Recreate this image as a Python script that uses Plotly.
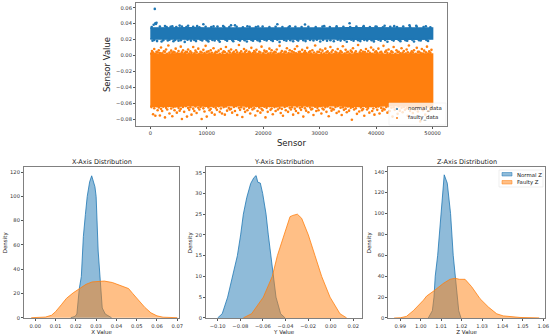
import plotly.graph_objects as go

W, H = 550, 336
BLUE, ORANGE = "#1f77b4", "#ff7f0e"
BLUE_F, ORANGE_F = "rgba(31,119,180,0.5)", "rgba(255,127,14,0.5)"
FONT = "DejaVu Sans"

# ---------- top scatter ----------
band_x = [0, 2500, 5000, 7500, 10000, 12500, 15000, 17500, 20000, 22500, 25000, 27500, 30000, 32500, 35000, 37500, 40000, 42500, 45000, 47500, 50000]
normal_upper = [0.0345, 0.0348, 0.0345, 0.0349, 0.0346, 0.0345, 0.0348, 0.0346, 0.0345, 0.0347, 0.0345, 0.0348, 0.0346, 0.0345, 0.0348, 0.0346, 0.0345, 0.0347, 0.0348, 0.0345, 0.0346]
normal_lower = [0.0205, 0.0203, 0.0205, 0.0204, 0.0205, 0.0203, 0.0205, 0.0204, 0.0203, 0.0205, 0.0204, 0.0205, 0.0203, 0.0205, 0.0204, 0.0203, 0.0205, 0.0204, 0.0205, 0.0203, 0.0205]
faulty_upper = [0.0020, 0.0015, 0.0022, 0.0014, 0.0018, 0.0012, 0.0018, 0.0022, 0.0014, 0.0018, 0.0014, 0.0022, 0.0012, 0.0018, 0.0014, 0.0022, 0.0018, 0.0012, 0.0018, 0.0014, 0.0018]
faulty_lower = [-0.0640, -0.0635, -0.0640, -0.0630, -0.0640, -0.0635, -0.0630, -0.0640, -0.0635, -0.0640, -0.0630, -0.0635, -0.0640, -0.0630, -0.0640, -0.0635, -0.0640, -0.0630, -0.0635, -0.0640, -0.0635]

normal_px = [800, 600, 900, 1100, 1000, 2600, 3900, 5200, 6700, 8300, 9400, 11200, 12900, 14300, 15000, 17200, 19100, 22500, 24700, 27400, 30800, 33000, 35300, 37800, 39900, 41500, 43200, 45900, 47100, 48800,
             400, 1200, 2000, 3100, 4100, 5000, 6100, 7200, 8100, 9200, 10300, 11400, 12300, 13600, 14700, 15900, 17100, 18200, 19400, 20600, 21700, 22900, 24100, 25300, 26200, 27500, 28900, 30100, 31300, 32500, 33700, 34800, 36000, 37200, 38400, 39600, 40800, 42000, 43100, 44300, 45500, 46700, 47900, 49200,
             250, 1700, 2900, 3600, 4600, 5600, 6400, 7600, 8700, 9800, 10800, 11900, 13100, 14000, 15300, 16400, 17600, 18700, 19900, 21100, 22200, 23400, 24500, 25700, 26800, 28000, 29300, 30500, 31800, 33000, 34200, 35400, 36500, 37700, 38900, 40100, 41200, 42500, 43700, 44800, 46000, 47200, 48400, 49600,
             700, 2300, 3400, 4400, 5400, 6600, 7800, 8900, 10000, 11000, 12100, 13300, 14500, 15600, 16700, 17900, 19000, 20200, 21400, 22500, 23700, 24800, 26000, 27100, 28300, 29500, 30600, 31900, 33200, 34400, 35600, 36800, 37900, 39200, 40400, 41600, 42800, 44000, 45200, 46400, 47600, 48900]
normal_py = [0.0585, 0.0385, 0.0405, 0.0410, 0.0395, 0.0370, 0.0365, 0.0375, 0.0372, 0.0368, 0.0392, 0.0365, 0.0370, 0.0378, 0.0378, 0.0366, 0.0364, 0.0392, 0.0366, 0.0388, 0.0368, 0.0365, 0.0405, 0.0368, 0.0364, 0.0372, 0.0368, 0.0378, 0.0372, 0.0366,
             0.0185, 0.0180, 0.0175, 0.0188, 0.0178, 0.0185, 0.0170, 0.0186, 0.0180, 0.0188, 0.0176, 0.0187, 0.0172, 0.0184, 0.0178, 0.0186, 0.0174, 0.0185, 0.0179, 0.0187, 0.0182, 0.0170, 0.0185, 0.0177, 0.0186, 0.0180, 0.0188, 0.0174, 0.0184, 0.0178, 0.0186, 0.0172, 0.0185, 0.0180, 0.0187, 0.0176, 0.0184, 0.0171, 0.0186, 0.0179, 0.0185, 0.0174, 0.0187, 0.0181,
             0.0358, 0.0362, 0.0355, 0.0360, 0.0357, 0.0363, 0.0356, 0.0359, 0.0354, 0.0361, 0.0356, 0.0362, 0.0355, 0.0358, 0.0361, 0.0354, 0.0359, 0.0356, 0.0362, 0.0355, 0.0360, 0.0357, 0.0354, 0.0361, 0.0356, 0.0359, 0.0355, 0.0362, 0.0357, 0.0354, 0.0360, 0.0356, 0.0362, 0.0355, 0.0358, 0.0361, 0.0354, 0.0359, 0.0356, 0.0362, 0.0355, 0.0360, 0.0357, 0.0354,
             0.0195, 0.0192, 0.0197, 0.0194, 0.0191, 0.0196, 0.0193, 0.0197, 0.0192, 0.0195, 0.0191, 0.0196, 0.0194, 0.0197, 0.0192, 0.0195, 0.0191, 0.0196, 0.0193, 0.0197, 0.0194, 0.0191, 0.0196, 0.0192, 0.0195, 0.0197, 0.0193, 0.0191, 0.0196, 0.0194, 0.0197, 0.0192, 0.0195, 0.0191, 0.0196, 0.0193, 0.0197, 0.0194, 0.0192, 0.0196, 0.0191, 0.0195]

faulty_top_x = [300, 700, 1100, 1500, 1900, 2400, 2800, 3200, 3700, 4100, 4500, 5000, 5400, 5800, 6300, 6700, 7100, 7600, 8000, 8500, 8900, 9400, 9800, 10300, 10700, 11200, 11600, 12100, 12500, 13000, 13400, 13900, 14300, 14800, 15200, 15700, 16100, 16600, 17000, 17500, 17900, 18400, 18800, 19300, 19700, 20200, 20600, 21100, 21500, 22000, 22400, 22900, 23300, 23800, 24200, 24700, 25100, 25600, 26000, 26500, 26900, 27400, 27800, 28300, 28700, 29200, 29600, 30100, 30500, 31000, 31400, 31900, 32300, 32800, 33200, 33700, 34100, 34600, 35000, 35500, 35900, 36400, 36800, 37300, 37700, 38200, 38600, 39100, 39500, 40000, 40400, 40900, 41300, 41800, 42200, 42700, 43100, 43600, 44000, 44500, 44900, 45400, 45800, 46300, 46700, 47200, 47600, 48100, 48500, 49000, 49400, 49800,
                200, 500, 900, 1300, 1700, 2100, 2600, 3000, 3400, 3900, 4300, 4800, 5200, 5600, 6100, 6500, 6900, 7300, 7800, 8200, 8700, 9100, 9600, 10000, 10500, 10900, 11400, 11800, 12300, 12800, 13200, 13600, 14100, 14600, 15000, 15400, 15900, 16400, 16800, 17300, 17700, 18200, 18600, 19100, 19500, 20000, 20400, 20900, 21300, 21800, 22200, 22700, 23100, 23600, 24000, 24500, 24900, 25400, 25800, 26300, 26700, 27200, 27600, 28100, 28500, 29000, 29400, 29900, 30300, 30800, 31200, 31700, 32100, 32600, 33000, 33500, 33900, 34400, 34800, 35300, 35700, 36200, 36600, 37100, 37500, 38000, 38400, 38900, 39300, 39800, 40200, 40700, 41100, 41600, 42000, 42500, 42900, 43400, 43800, 44300, 44700, 45200, 45600, 46100, 46500, 47000, 47400, 47900, 48300, 48800, 49200, 49600]
faulty_top_y = [0.0055, 0.0080, 0.0045, 0.0065, 0.0100, 0.0050, 0.0075, 0.0125, 0.0060, 0.0045, 0.0085, 0.0055, 0.0110, 0.0065, 0.0045, 0.0075, 0.0050, 0.0105, 0.0060, 0.0085, 0.0045, 0.0070, 0.0120, 0.0050, 0.0065, 0.0090, 0.0045, 0.0060, 0.0080, 0.0050, 0.0105, 0.0055, 0.0075, 0.0045, 0.0065, 0.0130, 0.0050, 0.0080, 0.0060, 0.0045, 0.0095, 0.0055, 0.0070, 0.0045, 0.0110, 0.0060, 0.0050, 0.0085, 0.0065, 0.0045, 0.0075, 0.0120, 0.0055, 0.0045, 0.0090, 0.0065, 0.0050, 0.0080, 0.0115, 0.0045, 0.0070, 0.0055, 0.0095, 0.0050, 0.0065, 0.0125, 0.0045, 0.0075, 0.0060, 0.0085, 0.0050, 0.0105, 0.0065, 0.0045, 0.0080, 0.0055, 0.0115, 0.0070, 0.0045, 0.0060, 0.0090, 0.0050, 0.0130, 0.0065, 0.0045, 0.0080, 0.0055, 0.0100, 0.0070, 0.0050, 0.0085, 0.0045, 0.0120, 0.0060, 0.0075, 0.0050, 0.0105, 0.0065, 0.0045, 0.0090, 0.0055, 0.0075, 0.0125, 0.0050, 0.0065, 0.0095, 0.0045, 0.0080, 0.0060, 0.0110, 0.0050, 0.0070,
                0.0025, 0.0035, 0.0020, 0.0040, 0.0030, 0.0025, 0.0045, 0.0020, 0.0035, 0.0030, 0.0040, 0.0025, 0.0020, 0.0038, 0.0028, 0.0042, 0.0022, 0.0032, 0.0026, 0.0040, 0.0020, 0.0036, 0.0028, 0.0044, 0.0022, 0.0034, 0.0026, 0.0040, 0.0020, 0.0032, 0.0042, 0.0024, 0.0036, 0.0028, 0.0020, 0.0040, 0.0030, 0.0024, 0.0044, 0.0022, 0.0034, 0.0028, 0.0040, 0.0020, 0.0036, 0.0026, 0.0042, 0.0022, 0.0032, 0.0028, 0.0040, 0.0020, 0.0034, 0.0024, 0.0044, 0.0030, 0.0022, 0.0038, 0.0026, 0.0042, 0.0020, 0.0032, 0.0028, 0.0040, 0.0024, 0.0036, 0.0020, 0.0044, 0.0030, 0.0022, 0.0038, 0.0026, 0.0042, 0.0020, 0.0034, 0.0028, 0.0040, 0.0024, 0.0036, 0.0022, 0.0044, 0.0030, 0.0020, 0.0038, 0.0026, 0.0042, 0.0024, 0.0034, 0.0020, 0.0040, 0.0028, 0.0036, 0.0022, 0.0044, 0.0030, 0.0024, 0.0038, 0.0020, 0.0042, 0.0026, 0.0034, 0.0022, 0.0040, 0.0028, 0.0036, 0.0020, 0.0044, 0.0030, 0.0024, 0.0038, 0.0022, 0.0034]

faulty_bot_x = [500, 900, 1300, 1700, 2100, 2600, 3000, 3400, 3900, 4300, 4700, 5200, 5600, 6000, 6500, 6900, 7300, 7800, 8200, 8700, 9100, 9600, 10000, 10500, 10900, 11400, 11800, 12300, 12700, 13200, 13600, 14100, 14500, 15000, 15400, 15900, 16300, 16800, 17200, 17700, 18100, 18600, 19000, 19500, 19900, 20400, 20800, 21300, 21700, 22200, 22600, 23100, 23500, 24000, 24400, 24900, 25300, 25800, 26200, 26700, 27100, 27600, 28000, 28500, 28900, 29400, 29800, 30300, 30700, 31200, 31600, 32100, 32500, 33000, 33400, 33900, 34300, 34800, 35200, 35700, 36100, 36600, 37000, 37500, 37900, 38400, 38800, 39300, 39700, 40200, 40600, 41100, 41500, 42000, 42400, 42900, 43300, 43800, 44200, 44700, 45100, 45600, 46000, 46500, 46900, 47400, 47800, 48300, 48700, 49200, 49600,
                200, 700, 1100, 1500, 1900, 2300, 2800, 3200, 3700, 4100, 4500, 5000, 5400, 5800, 6300, 6700, 7100, 7600, 8000, 8500, 8900, 9400, 9800, 10300, 10700, 11200, 11600, 12100, 12500, 13000, 13400, 13900, 14300, 14800, 15200, 15700, 16100, 16600, 17000, 17500, 17900, 18400, 18800, 19300, 19700, 20200, 20600, 21100, 21500, 22000, 22400, 22900, 23300, 23800, 24200, 24700, 25100, 25600, 26000, 26500, 26900, 27400, 27800, 28300, 28700, 29200, 29600, 30100, 30500, 31000, 31400, 31900, 32300, 32800, 33200, 33700, 34100, 34600, 35000, 35500, 35900, 36400, 36800, 37300, 37700, 38200, 38600, 39100, 39500, 40000, 40400, 40900, 41300, 41800, 42200, 42700, 43100, 43600, 44000, 44500, 44900, 45400, 45800, 46300, 46700, 47200, 47600, 48100, 48500, 49000, 49400, 49900]
faulty_bot_y = [-0.0740, -0.0760, -0.0690, -0.0755, -0.0700, -0.0780, -0.0680, -0.0730, -0.0765, -0.0690, -0.0720, -0.0695, -0.0800, -0.0710, -0.0770, -0.0685, -0.0745, -0.0700, -0.0725, -0.0680, -0.0800, -0.0705, -0.0770, -0.0690, -0.0720, -0.0745, -0.0685, -0.0710, -0.0730, -0.0745, -0.0695, -0.0680, -0.0720, -0.0700, -0.0750, -0.0685, -0.0775, -0.0710, -0.0690, -0.0730, -0.0680, -0.0755, -0.0700, -0.0720, -0.0690, -0.0780, -0.0710, -0.0685, -0.0740, -0.0700, -0.0680, -0.0725, -0.0760, -0.0690, -0.0710, -0.0680, -0.0745, -0.0700, -0.0725, -0.0685, -0.0770, -0.0695, -0.0715, -0.0680, -0.0750, -0.0700, -0.0690, -0.0730, -0.0680, -0.0710, -0.0765, -0.0695, -0.0680, -0.0725, -0.0705, -0.0750, -0.0685, -0.0715, -0.0695, -0.0810, -0.0680, -0.0735, -0.0705, -0.0690, -0.0760, -0.0680, -0.0720, -0.0700, -0.0745, -0.0685, -0.0730, -0.0695, -0.0680, -0.0720, -0.0700, -0.0770, -0.0685, -0.0735, -0.0695, -0.0715, -0.0685, -0.0760, -0.0700, -0.0725, -0.0680, -0.0705, -0.0830, -0.0690, -0.0745, -0.0700, -0.0685,
                -0.0650, -0.0665, -0.0640, -0.0655, -0.0672, -0.0645, -0.0660, -0.0638, -0.0668, -0.0650, -0.0642, -0.0660, -0.0672, -0.0648, -0.0638, -0.0662, -0.0652, -0.0670, -0.0642, -0.0658, -0.0648, -0.0666, -0.0638, -0.0655, -0.0672, -0.0645, -0.0660, -0.0640, -0.0668, -0.0650, -0.0642, -0.0662, -0.0672, -0.0648, -0.0638, -0.0658, -0.0652, -0.0670, -0.0642, -0.0660, -0.0648, -0.0666, -0.0638, -0.0655, -0.0672, -0.0645, -0.0660, -0.0640, -0.0668, -0.0650, -0.0642, -0.0662, -0.0672, -0.0648, -0.0638, -0.0658, -0.0652, -0.0670, -0.0642, -0.0660, -0.0648, -0.0666, -0.0638, -0.0655, -0.0672, -0.0645, -0.0660, -0.0640, -0.0668, -0.0650, -0.0642, -0.0662, -0.0672, -0.0648, -0.0638, -0.0658, -0.0652, -0.0670, -0.0642, -0.0660, -0.0648, -0.0666, -0.0638, -0.0655, -0.0672, -0.0645, -0.0660, -0.0640, -0.0668, -0.0650, -0.0642, -0.0662, -0.0672, -0.0648, -0.0638, -0.0658, -0.0652, -0.0670, -0.0642, -0.0660, -0.0648, -0.0666, -0.0638, -0.0655, -0.0672, -0.0645, -0.0660, -0.0640, -0.0668, -0.0650, -0.0642, -0.0662]

# ---------- densities ----------
x_normal_v = [0.0175, 0.0195, 0.0205, 0.0217, 0.0227, 0.0237, 0.0247, 0.0256, 0.0268, 0.0278, 0.0294, 0.0300, 0.0310, 0.0318, 0.0330, 0.0345, 0.0376]
x_normal_d = [0, 1, 3, 24, 34, 67, 85, 100, 112, 117, 108, 100, 55, 34, 8, 3, 0]
x_faulty_v = [-0.002, 0.0, 0.005, 0.008, 0.010, 0.013, 0.0154, 0.0187, 0.022, 0.025, 0.028, 0.034, 0.038, 0.042, 0.046, 0.048, 0.051, 0.054, 0.057, 0.060, 0.063, 0.066, 0.070]
x_faulty_d = [0, 0.1, 0.5, 2, 5, 11, 16, 20.5, 24, 27.5, 29.5, 30.2, 29, 26.5, 24, 20, 14, 8.5, 4, 1.5, 0.4, 0.1, 0]

y_normal_v = [-0.1000, -0.0960, -0.0912, -0.0867, -0.0826, -0.0797, -0.0773, -0.0743, -0.0708, -0.0680, -0.0660, -0.0645, -0.0623, -0.0602, -0.0572, -0.0552, -0.0531, -0.0511, -0.0484, -0.0443, -0.0404]
y_normal_d = [0, 1, 5, 10, 15, 20, 25, 29, 32.4, 33.8, 34.3, 32.7, 32.5, 30, 25, 20, 15, 10, 5, 1, 0]
y_faulty_v = [-0.0773, -0.0700, -0.0596, -0.0517, -0.0472, -0.0413, -0.0360, -0.0335, -0.0295, -0.0257, -0.0198, -0.0139, -0.0080, -0.0006, 0.0082, 0.0141]
y_faulty_d = [0, 1, 5, 10, 15, 20, 24.4, 24.7, 25, 24, 20, 15, 10, 5, 1, 0]

z_normal_v = [1.0037, 1.0057, 1.0065, 1.0071, 1.0083, 1.0099, 1.0106, 1.0115, 1.0130, 1.0146, 1.0159, 1.0168, 1.0177, 1.0186, 1.0197]
z_normal_d = [0, 7, 20, 40, 60, 100, 122, 137, 129, 100, 60, 40, 20, 7, 0]
z_faulty_v = [0.9870, 0.9900, 0.9930, 0.9964, 1.0013, 1.0029, 1.0065, 1.0110, 1.0143, 1.0168, 1.0190, 1.0217, 1.0249, 1.0290, 1.0331, 1.0372, 1.0404, 1.0486, 1.0580]
z_faulty_d = [0, 0.2, 1.5, 7, 17, 21, 26, 33, 37, 38, 37, 37, 30, 18.5, 10.5, 4, 2, 0.5, 0.1]

top_xticks = [0, 10000, 20000, 30000, 40000, 50000]
top_yticks = [0.06, 0.04, 0.02, 0.00, -0.02, -0.04, -0.06, -0.08]
ax1_xticks = [0.00, 0.01, 0.02, 0.03, 0.04, 0.05, 0.06, 0.07]
ax1_yticks = [0, 20, 40, 60, 80, 100, 120]
ax2_xticks = [-0.10, -0.08, -0.06, -0.04, -0.02, 0.00, 0.02]
ax2_yticks = [0, 5, 10, 15, 20, 25, 30, 35]
ax3_xticks = [0.99, 1.00, 1.01, 1.02, 1.03, 1.04, 1.05, 1.06]
ax3_yticks = [0, 20, 40, 60, 80, 100, 120, 140]

fig = go.Figure()

def band(xs, up, lo, col):
    fig.add_trace(go.Scatter(x=xs + xs[::-1], y=up + lo[::-1], mode="lines", fill="toself",
                             fillcolor=col, line=dict(color=col, width=1.5), hoverinfo="skip",
                             showlegend=False, xaxis="x", yaxis="y"))

def pts(xs, ys, col):
    fig.add_trace(go.Scatter(x=xs, y=ys, mode="markers", marker=dict(color=col, size=2.6),
                             showlegend=False, xaxis="x", yaxis="y"))

band(band_x, normal_upper, normal_lower, BLUE)
band(band_x, faulty_upper, faulty_lower, ORANGE)
pts(normal_px, normal_py, BLUE)
pts(faulty_top_x + faulty_bot_x, faulty_top_y + faulty_bot_y, ORANGE)

def dens(xs, ys, col, fc, ax):
    fig.add_trace(go.Scatter(x=xs, y=ys, mode="lines", fill="tozeroy", fillcolor=fc,
                             line=dict(color=col, width=0.8), showlegend=False,
                             xaxis="x" + ax, yaxis="y" + ax))

dens(x_normal_v, x_normal_d, BLUE, BLUE_F, "2")
dens(x_faulty_v, x_faulty_d, ORANGE, ORANGE_F, "2")
dens(y_normal_v, y_normal_d, BLUE, BLUE_F, "3")
dens(y_faulty_v, y_faulty_d, ORANGE, ORANGE_F, "3")
dens(z_normal_v, z_normal_d, BLUE, BLUE_F, "4")
dens(z_faulty_v, z_faulty_d, ORANGE, ORANGE_F, "4")

def axis(px0, px1, rng, ticks, fmt, title, anchor, tsize, standoff, horizontal=True, lw=1):
    dom = [px0 / W, px1 / W] if horizontal else [1 - px1 / H, 1 - px0 / H]
    return dict(domain=dom, range=rng, tickvals=ticks, tickformat=fmt, anchor=anchor,
                title=dict(text=title, font=dict(size=tsize, color="#222"), standoff=standoff),
                showgrid=False, zeroline=False, showline=True, mirror=True,
                linecolor="#808080", linewidth=lw, ticks="outside", ticklen=2, tickwidth=0.6,
                tickcolor="#555", tickfont=dict(size=5.2, color="#333"), automargin=False)

layout = dict(width=W, height=H, margin=dict(l=0, r=0, t=0, b=0), autosize=False,
              paper_bgcolor="white", plot_bgcolor="white", font=dict(family=FONT),
              hovermode=False, showlegend=False)
layout["xaxis"] = axis(136, 447, [-2530, 52550], top_xticks, "d", "Sensor", "y", 8.5, 4)
layout["yaxis"] = axis(3, 126, [-0.0888, 0.0659], top_yticks, ".2f", "Sensor Value", "x", 8.5, 4, False)
layout["xaxis2"] = axis(24, 179.3, [-0.00557, 0.0710], ax1_xticks, ".2f", "X Value", "y2", 5.5, 2)
layout["yaxis2"] = axis(167.3, 318.3, [-0.5, 124], ax1_yticks, "d", "Density", "x2", 5.5, 2, False)
layout["xaxis3"] = axis(206, 362.3, [-0.11035, 0.02796], ax2_xticks, ".2f", "Y Value", "y3", 5.5, 2)
layout["yaxis3"] = axis(167.3, 318.3, [-0.1, 36.3], ax2_yticks, "d", "Density", "x3", 5.5, 2, False)
layout["xaxis4"] = axis(388.3, 545, [0.98413, 1.06083], ax3_xticks, ".2f", "Z Value", "y4", 5.5, 2)
layout["yaxis4"] = axis(167.3, 318.3, [-0.3, 144.2], ax3_yticks, "d", "Density", "x4", 5.5, 2, False)

def px(x): return x / W
def py(y): return 1 - y / H

def note(text, x, y, size, anchor="left"):
    return dict(text=text, x=px(x), y=py(y), xref="paper", yref="paper", showarrow=False,
                xanchor=anchor, yanchor="middle", font=dict(size=size, color="#222"))

def rect(x0, y0, x1, y1, fill, line=None):
    return dict(type="rect", xref="paper", yref="paper", x0=px(x0), x1=px(x1), y0=py(y0), y1=py(y1),
                fillcolor=fill, line=dict(color=line or "rgba(0,0,0,0)", width=0.5), layer="above")

def dot(x, y, col):
    return dict(type="circle", xref="paper", yref="paper", x0=px(x - 1), x1=px(x + 1), y0=py(y - 1), y1=py(y + 1),
                fillcolor=col, line=dict(width=0), layer="above")

layout["shapes"] = [
    rect(389, 103, 446, 125, "rgba(255,255,255,0.8)", "#e8e8e8"),
    dot(397, 109, BLUE), dot(397, 118, ORANGE),
    rect(499, 170, 543, 187, "rgba(255,255,255,0.8)", "#dddddd"),
    rect(502, 172.5, 512, 176, BLUE_F, BLUE),
    rect(502, 180.5, 512, 184, ORANGE_F, ORANGE),
]
layout["annotations"] = [
    note("X-Axis Distribution", 101.5, 162, 6.5, "center"),
    note("Y-Axis Distribution", 284, 162, 6.5, "center"),
    note("Z-Axis Distribution", 466.5, 162, 6.5, "center"),
    note("normal_data", 406, 109, 5.4),
    note("faulty_data", 406, 118, 5.4),
    note("Normal Z", 515, 174.5, 5.4),
    note("Faulty Z", 515, 182.5, 5.4),
]
fig.update_layout(**layout)
fig.write_html("out.html", config={"displayModeBar": False},
               post_script="document.body.style.margin='0';document.documentElement.style.overflow='hidden';")
